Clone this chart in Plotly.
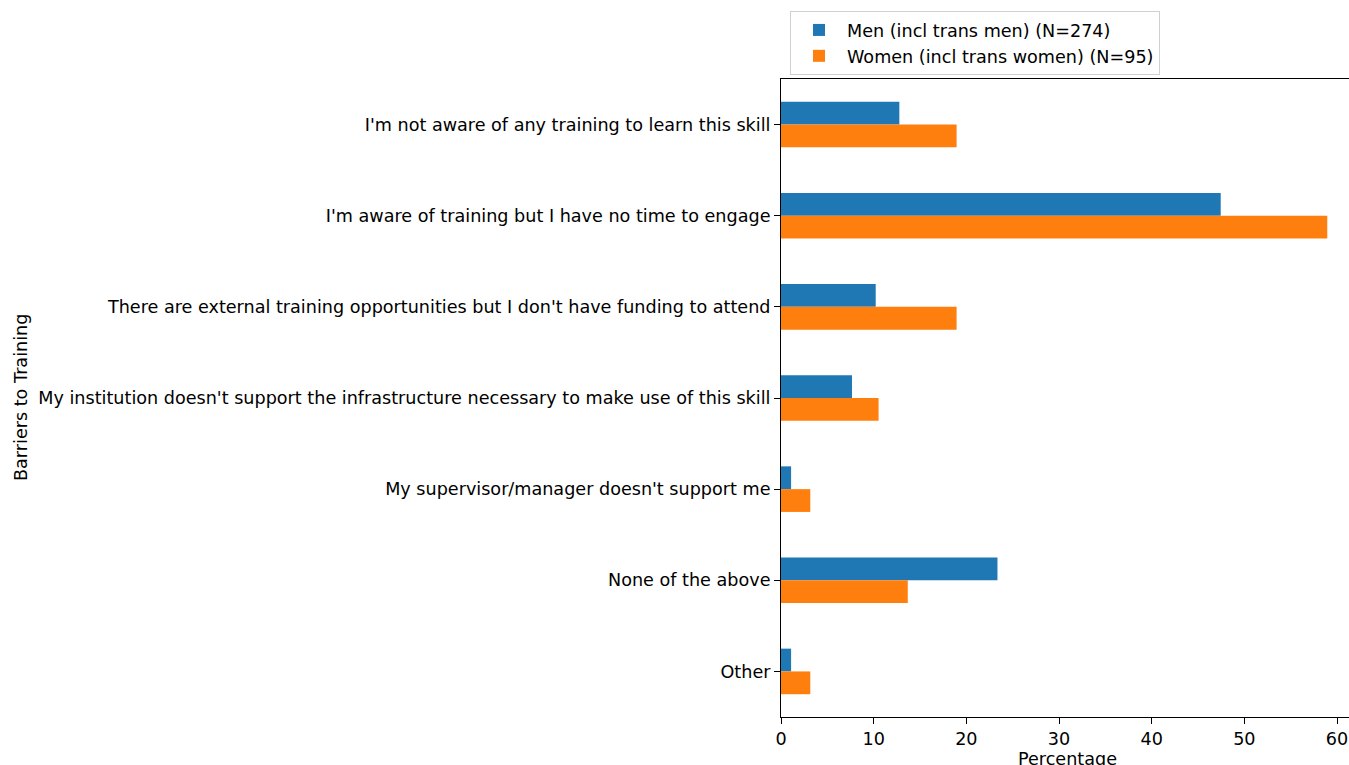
import plotly.graph_objects as go

# Survey answers: barriers to training, by gender (percent of respondents)
barriers = [
    "I'm not aware of any training to learn this skill",
    "I'm aware of training but I have no time to engage",
    "There are external training opportunities but I don't have funding to attend",
    "My institution doesn't support the infrastructure necessary to make use of this skill",
    "My supervisor/manager doesn't support me",
    "None of the above",
    "Other",
]
men_pct = [12.77, 47.45, 10.22, 7.66, 1.09, 23.36, 1.09]
women_pct = [18.95, 58.95, 18.95, 10.53, 3.16, 13.68, 3.16]
series_names = ["Men (incl trans men) (N=274)", "Women (incl trans women) (N=95)"]
x_ticks = [0, 10, 20, 30, 40, 50, 60]

FONT = "DejaVu Sans"
FS = 17.6
W, H = 1349, 765
L, R, T, B = 781, 0, 79, 48

fig = go.Figure()
fig.add_trace(go.Bar(y=barriers, x=men_pct, orientation="h", name=series_names[0],
                     marker=dict(color="#1f77b4", line=dict(width=0))))
fig.add_trace(go.Bar(y=barriers, x=women_pct, orientation="h", name=series_names[1],
                     marker=dict(color="#ff7f0e", line=dict(width=0))))

plot_w = W - L - R
plot_h = H - T - B

fig.update_layout(
    width=W, height=H,
    margin=dict(l=L, r=R, t=T, b=B, pad=0),
    paper_bgcolor="white", plot_bgcolor="white",
    font=dict(family=FONT, size=FS, color="#000"),
    barmode="group", bargap=0.5, bargroupgap=0,
    showlegend=True,
    legend=dict(
        x=(790 - L) / plot_w, y=1 + (T - 11) / plot_h,
        xanchor="left", yanchor="top",
        bordercolor="#d0d0d0", borderwidth=1, bgcolor="white",
        font=dict(family=FONT, size=FS, color="#000"),
        traceorder="normal", itemwidth=46, tracegroupgap=0,
    ),
    xaxis=dict(
        range=[0, plot_w / ((1337 - 781) / 60)],
        tickvals=x_ticks, ticktext=[str(v) for v in x_ticks],
        showgrid=False, zeroline=False,
        showline=True, linecolor="#000", linewidth=1, mirror=True,
        ticks="outside", ticklen=6, tickcolor="#000", tickwidth=1,
        tickfont=dict(family=FONT, size=FS, color="#000"),
    ),
    yaxis=dict(
        range=[6.5, -0.5], type="category",
        showgrid=False, zeroline=False,
        showline=True, linecolor="#000", linewidth=1, mirror=False,
        ticks="outside", ticklen=6, tickcolor="#000", tickwidth=1,
        tickfont=dict(family=FONT, size=FS, color="#000"),
    ),
    annotations=[
        dict(text="Barriers to Training", textangle=-90,
             xref="paper", yref="paper",
             x=(21 - L) / plot_w, y=(H - B - 398) / plot_h,
             xanchor="center", yanchor="middle", showarrow=False,
             font=dict(family=FONT, size=FS, color="#000")),
        dict(text="Percentage",
             xref="paper", yref="paper",
             x=(1067 - L) / plot_w, y=-(759 - (H - B)) / plot_h,
             xanchor="center", yanchor="middle", showarrow=False,
             font=dict(family=FONT, size=FS, color="#000")),
    ],
)

fig.write_html("out.html")
